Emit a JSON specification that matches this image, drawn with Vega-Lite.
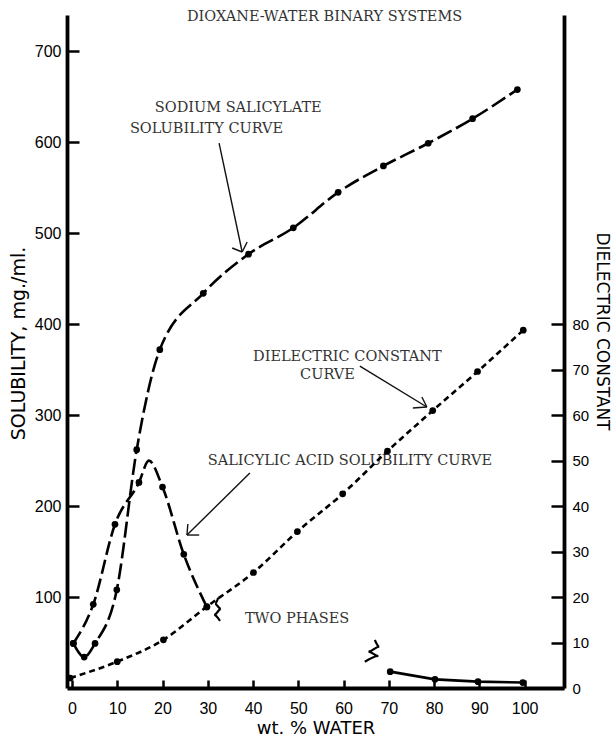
{
  "$schema": "https://vega.github.io/schema/vega-lite/v6.json",
  "width": 497,
  "height": 673,
  "autosize": "none",
  "padding": {"left": 67, "top": 15, "right": 51, "bottom": 49},
  "background": "white",
  "config": {
    "view": {"stroke": null},
    "axis": {
      "grid": false,
      "domainColor": "#000",
      "domainWidth": 3.8,
      "tickColor": "#000",
      "tickWidth": 2.5,
      "labelColor": "#000",
      "labelFont": "Liberation Sans",
      "labelFontSize": 16,
      "titleColor": "#000",
      "titleFont": "DejaVu Sans",
      "titleFontWeight": "normal"
    }
  },
  "datasets": {
    "sodium": [
      {"x": 0.3, "y": 49}, {"x": 2.7, "y": 34}, {"x": 5.1, "y": 49}, {"x": 9.9, "y": 108},
      {"x": 14.3, "y": 262}, {"x": 19.4, "y": 372}, {"x": 29, "y": 434}, {"x": 39, "y": 477},
      {"x": 48.9, "y": 506}, {"x": 58.8, "y": 545}, {"x": 68.8, "y": 574}, {"x": 78.7, "y": 599},
      {"x": 88.5, "y": 626}, {"x": 98.4, "y": 658}
    ],
    "acid": [
      {"x": 0.3, "y": 49, "measured": true}, {"x": 4.7, "y": 92, "measured": true},
      {"x": 9.5, "y": 180, "measured": true}, {"x": 14.8, "y": 226, "measured": true},
      {"x": 17, "y": 250, "measured": false}, {"x": 20, "y": 221, "measured": true},
      {"x": 24.7, "y": 147, "measured": true}, {"x": 29.8, "y": 89, "measured": true}
    ],
    "acidHighWater": [
      {"x": 70.3, "y": 18}, {"x": 80.2, "y": 9.5}, {"x": 89.7, "y": 7}, {"x": 99.6, "y": 6}
    ],
    "dielectric": [
      {"x": -0.4, "d": 2.2}, {"x": 10, "d": 5.8}, {"x": 20.2, "d": 10.6}, {"x": 29.8, "d": 17.9},
      {"x": 40.1, "d": 25.4}, {"x": 49.8, "d": 34.4}, {"x": 59.8, "d": 42.7}, {"x": 69.7, "d": 52.1},
      {"x": 79.7, "d": 61}, {"x": 89.6, "d": 69.6}, {"x": 99.7, "d": 78.7}
    ],
    "breaks": [
      {"brk": "a", "i": 0, "x": 32.3, "y": 99}, {"brk": "a", "i": 1, "x": 31.6, "y": 92.4},
      {"brk": "a", "i": 2, "x": 32.9, "y": 86.9}, {"brk": "a", "i": 3, "x": 31.4, "y": 80.3},
      {"brk": "a", "i": 4, "x": 32.7, "y": 73.7},
      {"brk": "b", "i": 0, "x": 66.9, "y": 52.8}, {"brk": "b", "i": 1, "x": 67.9, "y": 45.4},
      {"brk": "b", "i": 2, "x": 65.5, "y": 39.9}, {"brk": "b", "i": 3, "x": 67.7, "y": 35.2},
      {"brk": "b", "i": 4, "x": 64.7, "y": 28.9}
    ],
    "arrows": [
      {"x": 32.5, "y": 599.2, "x2": 37.6, "y2": 479.4},
      {"x": 35.4, "y": 483.8, "x2": 37.6, "y2": 479.4},
      {"x": 38.7, "y": 490.4, "x2": 37.6, "y2": 479.4},
      {"x": 39.3, "y": 236.4, "x2": 25.4, "y2": 168.2},
      {"x": 25.6, "y": 180.3, "x2": 25.4, "y2": 168.2},
      {"x": 28.1, "y": 168.2, "x2": 25.4, "y2": 168.2},
      {"x": 63.6, "y": 354.0, "x2": 78.4, "y2": 309.0},
      {"x": 75.3, "y": 307.9, "x2": 78.4, "y2": 309.0},
      {"x": 77.3, "y": 320.0, "x2": 78.4, "y2": 309.0}
    ],
    "notes": [
      {"label": "DIOXANE-WATER BINARY SYSTEMS", "x": 25.4, "y": 737.8},
      {"label": "SODIUM SALICYLATE", "x": 18.3, "y": 637.7},
      {"label": "SOLUBILITY CURVE", "x": 12.8, "y": 614.6},
      {"label": "SALICYLIC ACID SOLUBILITY CURVE", "x": 30.0, "y": 249.6},
      {"label": "DIELECTRIC CONSTANT", "x": 40.0, "y": 363.9},
      {"label": "CURVE", "x": 50.4, "y": 344.1},
      {"label": "TWO PHASES", "x": 38.2, "y": 75.9}
    ]
  },
  "encoding": {
    "x": {
      "field": "x",
      "type": "quantitative",
      "scale": {"domain": [-1.1, 108.7], "nice": false, "zero": false},
      "axis": {
        "title": "wt. % WATER",
        "values": [0, 10, 20, 30, 40, 50, 60, 70, 80, 90, 100],
        "tickSize": -8,
        "labelPadding": 20,
        "titleFontSize": 18,
        "titlePadding": 3
      }
    }
  },
  "layer": [
    {
      "encoding": {
        "y": {
          "field": "y",
          "type": "quantitative",
          "scale": {"domain": [0, 740], "nice": false, "zero": false},
          "axis": {
            "orient": "left",
            "title": "SOLUBILITY, mg./ml.",
            "values": [100, 200, 300, 400, 500, 600, 700],
            "tickSize": -12,
            "labelPadding": 18,
            "titleFontSize": 19,
            "titlePadding": 6,
            "titleY": 328
          }
        }
      },
      "layer": [
        {
          "data": {"name": "sodium"},
          "mark": {"type": "line", "color": "#000", "strokeWidth": 2.6, "strokeDash": [16, 5], "interpolate": "monotone"}
        },
        {
          "data": {"name": "sodium"},
          "mark": {"type": "point", "filled": true, "color": "#000", "opacity": 1, "size": 45}
        },
        {
          "data": {"name": "acid"},
          "mark": {"type": "line", "color": "#000", "strokeWidth": 2.6, "strokeDash": [14, 5], "interpolate": "monotone"}
        },
        {
          "data": {"name": "acid"},
          "transform": [{"filter": "datum.measured"}],
          "mark": {"type": "point", "filled": true, "color": "#000", "opacity": 1, "size": 45}
        },
        {
          "data": {"name": "acidHighWater"},
          "mark": {"type": "line", "color": "#000", "strokeWidth": 2.6}
        },
        {
          "data": {"name": "acidHighWater"},
          "mark": {"type": "point", "filled": true, "color": "#000", "opacity": 1, "size": 45}
        },
        {
          "data": {"name": "breaks"},
          "mark": {"type": "line", "color": "#000", "strokeWidth": 2.2, "interpolate": "monotone"},
          "encoding": {"detail": {"field": "brk"}, "order": {"field": "i", "type": "quantitative"}}
        },
        {
          "data": {"name": "arrows"},
          "mark": {"type": "rule", "color": "#111", "strokeWidth": 1.4},
          "encoding": {
            "x2": {"field": "x2"},
            "y2": {"field": "y2"}
          }
        },
        {
          "data": {"name": "notes"},
          "mark": {"type": "text", "font": "DejaVu Serif", "fontSize": 14.5, "color": "#333", "align": "left", "baseline": "middle"},
          "encoding": {"text": {"field": "label"}}
        }
      ]
    },
    {
      "data": {"name": "dielectric"},
      "encoding": {
        "y": {
          "field": "d",
          "type": "quantitative",
          "scale": {"domain": [0, 148], "nice": false, "zero": false},
          "axis": {
            "orient": "right",
            "title": "DIELECTRIC CONSTANT",
            "values": [0, 10, 20, 30, 40, 50, 60, 70, 80],
            "tickSize": -13,
            "labelPadding": 21,
            "labelFontSize": 15,
            "titleFontSize": 17,
            "titlePadding": 4,
            "titleY": 316
          }
        }
      },
      "layer": [
        {
          "mark": {"type": "line", "color": "#000", "strokeWidth": 2.6, "strokeDash": [6, 4], "interpolate": "monotone"}
        },
        {
          "mark": {"type": "point", "filled": true, "color": "#000", "opacity": 1, "size": 45}
        }
      ]
    }
  ],
  "resolve": {"scale": {"y": "independent"}, "axis": {"y": "independent"}}
}
